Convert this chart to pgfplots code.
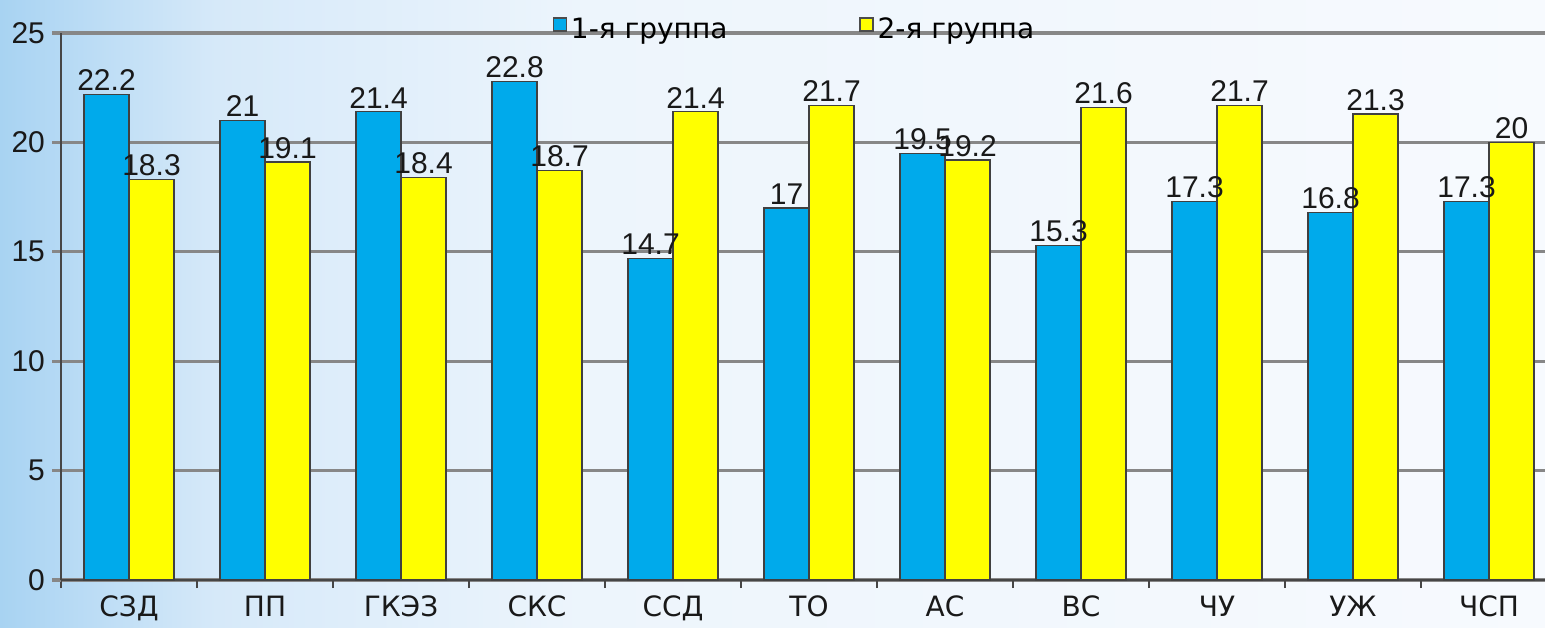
\documentclass[border=0pt]{standalone}
\usepackage{pgfplots}
\pgfplotsset{compat=1.18}
\usepackage{fontspec}
\setmainfont{Liberation Sans}
\newfontfamily\dvfont{DejaVu Sans}
\definecolor{barblue}{RGB}{0,170,235}
\definecolor{baryellow}{RGB}{255,255,0}
\definecolor{gridgray}{RGB}{135,135,135}
\definecolor{axisgray}{RGB}{70,70,70}
\definecolor{labelcol}{RGB}{25,25,25}
\definecolor{bg0}{RGB}{168,211,242}
\definecolor{bg1}{RGB}{214,233,249}
\definecolor{bg2}{RGB}{237,245,252}
\definecolor{bg3}{RGB}{247,250,254}
\pgfdeclarehorizontalshading{bgshade}{100bp}{color(0bp)=(bg0); color(25bp)=(bg0); color(32bp)=(bg1); color(44bp)=(bg2); color(75bp)=(bg3); color(100bp)=(bg3)}
\newcommand{\numfont}{\fontsize{15}{17}\selectfont}
\newcommand{\catfont}{\dvfont\fontsize{14}{16}\selectfont}
\begin{document}
\begin{tikzpicture}[x=1pt,y=1pt]
\useasboundingbox (0,0) rectangle (772.5,313.5);
\shade[shading=bgshade] (0,0) rectangle (772.5,313.5);
\begin{axis}[
  at={(30.5pt,23.5pt)}, anchor=south west,
  scale only axis, width=741.9pt, height=273.5pt,
  xmin=-0.5, xmax=10.41, ymin=0, ymax=25,
  ybar=0pt, bar width=22.5pt,
  axis x line=bottom, axis y line=left,
  axis line style={-, draw=axisgray, line width=1pt},
  xtick={0,...,10},
  xticklabels={СЗД,ПП,ГКЭЗ,СКС,ССД,ТО,АС,ВС,ЧУ,УЖ,ЧСП},
  xticklabel style={font=\catfont, text=labelcol},
  major x tick style={draw=none},
  minor xtick={-0.5,0.5,...,10.5},
  minor x tick style={draw=axisgray, line width=1pt},
  minor tick length=4pt,
  ytick={0,5,...,25},
  yticklabel style={font=\numfont, text=labelcol},
  major y tick style={draw=gridgray, line width=1.6pt},
  major tick length=4.5pt,
  tick align=outside,
  ymajorgrids,
  grid style={draw=gridgray, line width=1.6pt},
  /pgf/number format/assume math mode=true,
  nodes near coords,
  every node near coord/.append style={font=\numfont, text=labelcol, inner sep=1.5pt},
  legend style={at={(0.495,1.0)}, anchor=center, yshift=1.5pt, draw=none, fill=none,
    legend columns=2, font=\catfont,
    /tikz/every even column/.append style={column sep=64pt}},
  legend image code/.code={\draw[#1,draw=black!70] (0pt,-0.5pt) rectangle (6.5pt,6pt);},
]
\addplot[fill=barblue, draw=black!75, line width=0.6pt] coordinates {
(0,22.2) (1,21) (2,21.4) (3,22.8) (4,14.7) (5,17) (6,19.5) (7,15.3) (8,17.3) (9,16.8) (10,17.3)};
\addplot[fill=baryellow, draw=black!75, line width=0.6pt] coordinates {
(0,18.3) (1,19.1) (2,18.4) (3,18.7) (4,21.4) (5,21.7) (6,19.2) (7,21.6) (8,21.7) (9,21.3) (10,20)};
\legend{1-я группа, 2-я группа}
\end{axis}
\end{tikzpicture}
\end{document}
